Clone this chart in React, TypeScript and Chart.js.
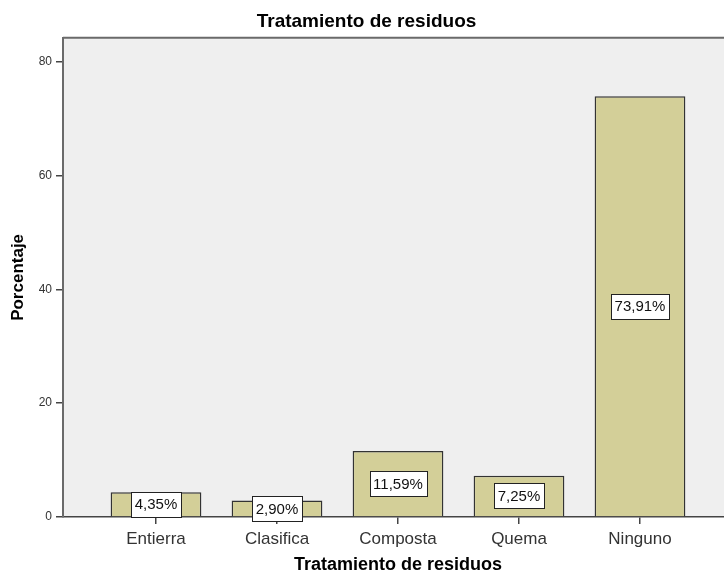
import React, { useEffect, useRef } from "react";
import { Chart, registerables } from "chart.js";
Chart.register(...registerables);

const categories = ["Entierra", "Clasifica", "Composta", "Quema", "Ninguno"];
const percentages = [4.35, 2.9, 11.59, 7.25, 73.91];
const percentLabels = ["4,35%", "2,90%", "11,59%", "7,25%", "73,91%"];
const yTicks = [0, 20, 40, 60, 80];
const chartTitle = "Tratamiento de residuos";
const xTitle = "Tratamiento de residuos";
const yTitle = "Porcentaje";

const FONT = "'Liberation Sans', Arial, sans-serif";

export default function App() {
  const ref = useRef<HTMLCanvasElement>(null);
  useEffect(() => {
    if (!ref.current) return;
    const bgPlugin = {
      id: "plotBg",
      beforeDraw(chart: any) {
        const { ctx, chartArea: a } = chart;
        ctx.save();
        ctx.fillStyle = "#efefef";
        ctx.fillRect(a.left, a.top, a.right - a.left, a.bottom - a.top);
        ctx.strokeStyle = "#6a6a6a";
        ctx.lineWidth = 2;
        ctx.beginPath();
        ctx.moveTo(a.left, a.top);
        ctx.lineTo(a.right, a.top);
        ctx.stroke();
        ctx.restore();
      },
    };
    const labelPlugin = {
      id: "boxLabels",
      afterDatasetsDraw(chart: any) {
        const { ctx } = chart;
        const meta = chart.getDatasetMeta(0);
        ctx.save();
        ctx.font = `15px ${FONT}`;
        ctx.textAlign = "center";
        ctx.textBaseline = "middle";
        meta.data.forEach((el: any, i: number) => {
          const { x, y, base } = el.getProps(["x", "y", "base"], true);
          const cy = (y + base) / 2;
          const text = percentLabels[i];
          const w = Math.round(ctx.measureText(text).width + 7);
          const h = 25;
          const bx = Math.round(x - w / 2) + 0.5;
          const by = Math.round(cy - h / 2) + 0.5;
          ctx.fillStyle = "#ffffff";
          ctx.fillRect(bx, by, w, h);
          ctx.strokeStyle = "#222";
          ctx.lineWidth = 1;
          ctx.strokeRect(bx, by, w, h);
          ctx.fillStyle = "#111";
          ctx.fillText(text, x, cy + 1);
        });
        ctx.restore();
      },
    };
    const chart = new Chart(ref.current, {
      type: "bar",
      data: {
        datasets: [
          {
            data: categories.map((c, i) => ({ x: i, y: percentages[i] })) as any,
            backgroundColor: "#d3cf98",
            borderColor: "#333333",
            borderWidth: 1.5,
            barPercentage: 0.75,
            categoryPercentage: 1,
          },
        ],
      },
      options: {
        animation: false,
        responsive: false,
        maintainAspectRatio: false,
        layout: { padding: { left: 0, right: 2, top: 0, bottom: 0 } },
        plugins: {
          legend: { display: false },
          tooltip: { enabled: false },
          title: {
            display: true,
            text: chartTitle,
            color: "#000",
            font: { family: FONT, size: 19, weight: "bold" },
            padding: { top: 10, bottom: 5 },
          },
        },
        scales: {
          x: {
            type: "linear",
            offset: false,
            min: -0.7686,
            max: 4.7686,
            afterBuildTicks: (s: any) => {
              s.ticks = categories.map((_, i) => ({ value: i }));
            },
            afterFit: (s: any) => {
              s.height = 59;
            },
            ticks: {
              callback: (v: any) => categories[v],
              color: "#333",
              font: { family: FONT, size: 17 },
              padding: 5,
              autoSkip: false,
              maxRotation: 0,
            },
            grid: {
              display: true,
              offset: false,
              drawOnChartArea: false,
              drawTicks: true,
              tickLength: 7,
              color: "#444",
              lineWidth: 1.5,
            },
            border: { display: true, color: "#444", width: 1.5 },
            title: {
              display: true,
              text: xTitle,
              color: "#000",
              font: { family: FONT, size: 18, weight: "bold" },
              padding: { top: 0, bottom: 0 },
            },
          },
          y: {
            type: "linear",
            min: 0,
            max: 84.2,
            afterBuildTicks: (s: any) => {
              s.ticks = yTicks.map((v) => ({ value: v }));
            },
            afterFit: (s: any) => {
              s.width = 63;
            },
            ticks: {
              color: "#333",
              font: { family: FONT, size: 12 },
              padding: 4,
            },
            grid: {
              drawOnChartArea: false,
              drawTicks: true,
              tickLength: 7,
              color: "#444",
              lineWidth: 1.5,
            },
            border: { display: true, color: "#6a6a6a", width: 2 },
            title: {
              display: true,
              text: yTitle,
              color: "#000",
              font: { family: FONT, size: 17, weight: "bold" },
              padding: { top: 8, bottom: 0 },
            },
          },
        },
      } as any,
      plugins: [bgPlugin, labelPlugin],
    });
    return () => chart.destroy();
  }, []);
  return (
    <div
      style={{
        position: "absolute",
        left: 0,
        top: 0,
        width: 724,
        height: 576,
        overflow: "hidden",
        background: "#fff",
      }}
    >
      <canvas ref={ref} width={735} height={576} style={{ display: "block" }} />
    </div>
  );
}
